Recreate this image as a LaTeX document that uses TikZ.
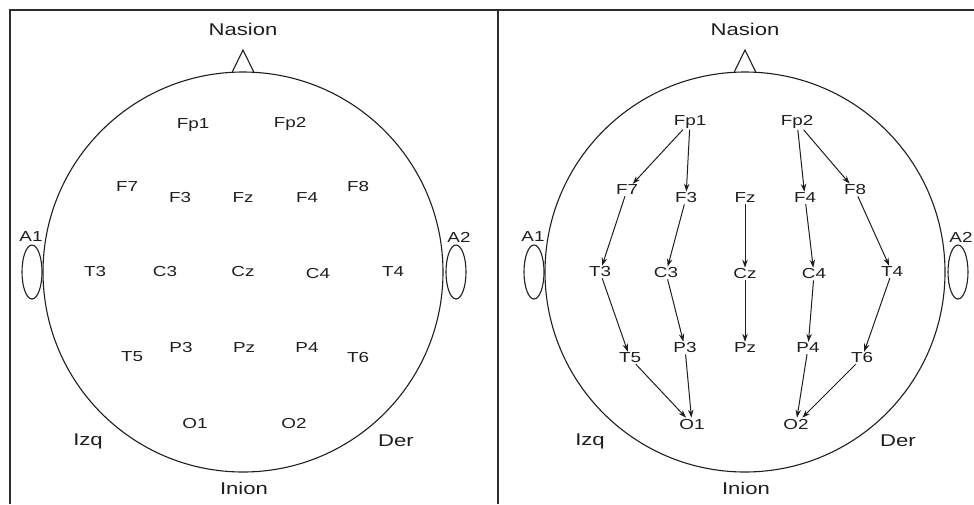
\documentclass[tikz,border=0pt]{standalone}
\usepackage{fontspec}
\setmainfont{Liberation Sans}[FakeStretch=1.3]
\usetikzlibrary{arrows.meta}
\definecolor{framegray}{RGB}{45,45,45}
\definecolor{inkgray}{RGB}{30,30,30}

\tikzset{
  elec/.style={font=\fontsize{14.5}{15}\selectfont, inner sep=1pt, text=inkgray},
  landmark/.style={font=\fontsize{17}{18}\selectfont, inner sep=1pt, text=inkgray},
  scalp/.style={draw=inkgray, line width=1.1pt},
  link/.style={draw=inkgray, line width=1pt, -{Stealth[length=8pt,width=5.5pt]}},
}

\begin{document}
\begin{tikzpicture}[x=1pt,y=-1pt]
\useasboundingbox (0,0) rectangle (974,504);

% frame
\draw[framegray, line width=2.5pt] (10,504) -- (10,10) -- (974,10);
\draw[framegray, line width=2.5pt] (498,10) -- (498,504);

% heads, ears, nose
\foreach \p/\cx in {l/243, r/745} {
  \draw[scalp] (\cx,272) circle[radius=200pt];
  \draw[scalp] (\cx-11,72.5) -- (\cx,50) -- (\cx+11,72.5);
  \draw[scalp] (\cx-211,272) ellipse[x radius=10pt, y radius=27pt];
  \draw[scalp] (\cx+213,272) ellipse[x radius=10pt, y radius=27pt];
  \node[landmark] (\p-nasion) at (\cx,29) {Nasion};
  \node[landmark] (\p-inion) at (\cx+1,488) {Inion};
  \node[landmark] (\p-izq) at (\cx-155,441) {Izq};
  \node[landmark] (\p-der) at (\cx+153,441) {Der};
  \node[elec] (\p-A1) at (\cx-212,237) {A1};
  \node[elec] (\p-A2) at (\cx+216,237) {A2};
}

% electrodes, left head
\foreach \n/\x/\y in {Fp1/193/125, Fp2/290/124, F7/127/187, F3/180/198, Fz/243/198,
    F4/307/198, F8/358/187, T3/95/272, C3/165/272, Cz/243/272, C4/318/274, T4/393/272,
    T5/132/357, P3/181/348, Pz/244/348, P4/307/348, T6/358/358, O1/195/423, O2/294/423}
  \node[elec] (l-\n) at (\x,\y) {\n};

% electrodes, right head
\foreach \n/\x/\y in {Fp1/690/122, Fp2/797/122, F7/627/190, F3/686/198, Fz/745/198,
    F4/805/198, F8/855/190, T3/600/272, C3/666/273, Cz/745/274, C4/814/274, T4/892/272,
    T5/630/358, P3/685/348, Pz/745/348, P4/808/348, T6/862/358, O1/692/424, O2/796/424}
  \node[elec] (r-\n) at (\x,\y) {\n};

% bipolar chains
\foreach \a/\b in {Fp1/F7, F7/T3, T3/T5, T5/O1, Fp1/F3, F3/C3, C3/P3, P3/O1,
    Fz/Cz, Cz/Pz, Fp2/F4, F4/C4, C4/P4, P4/O2, Fp2/F8, F8/T4, T4/T6, T6/O2}
  \draw[link] (r-\a) -- (r-\b);
\end{tikzpicture}
\end{document}
